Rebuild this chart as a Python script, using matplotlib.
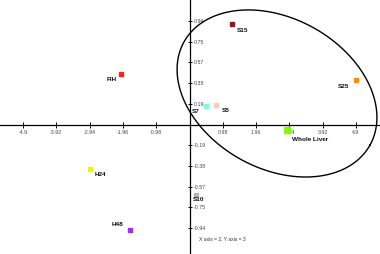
import numpy as np
import matplotlib
matplotlib.use("Agg")
import matplotlib.pyplot as plt

# ---- data ----
names = ['S15', 'FIH', 'S25', 'S7', 'S5', 'Whole Liver', 'H24', 'H48', 'S10']
xs = [1.24, -2.02, 4.91, 0.48, 0.78, 2.88, -2.92, -1.75, 0.19]
ys = [0.91, 0.46, 0.40, 0.17, 0.18, -0.05, -0.40, -0.96, -0.64]
colors = ['#8b1c1c', '#ff1e1e', '#ff8c1a', '#7fffd4', '#ffc8b8',
          '#80ff00', '#f2f200', '#9933ee', '#b4b4b4']
sizes = [3.0, 3.0, 3.0, 3.0, 3.0, 5.0, 3.0, 3.0, 2.2]
# label offsets (points) and alignment
offs = [(3.6, -4.3), (-2.9, -4.3), (-5.0, -4.3), (-4.7, -4.3), (4.3, -4.3),
        (3.6, -6.5), (2.9, -4.3), (-5.0, 4.3), (-2.2, -3.6)]
has = ['left', 'right', 'right', 'right', 'left', 'left', 'left', 'right', 'left']

xticks = [-4.9, -3.92, -2.94, -1.96, -0.98, 0.98, 1.96, 2.94, 3.92, 4.9]
xticklabels = ['-4.9', '-3.92', '-2.94', '-1.96', '-0.98', '0.98', '1.96', '2.94', '3.92', '4.9']
yticks = [0.94, 0.75, 0.57, 0.38, 0.19, -0.19, -0.38, -0.57, -0.75, -0.94]
yticklabels = ['0.94', '0.75', '0.57', '0.38', '0.19', '-0.19', '-0.38', '-0.57', '-0.75', '-0.94']

# ellipse (data units): centre and two semi-axis vectors
ell_c = (2.575, 0.282)
ell_u = (2.740, -0.467)
ell_v = (-1.068, -0.598)

fig = plt.figure(figsize=(3.8, 2.54), dpi=100)
ax = fig.add_axes([0, 0, 1, 1])
ax.set_xlim(-5.577, 5.606)
ax.set_ylim(-1.176, 1.131)

for s in ['top', 'left']:
    ax.spines[s].set_visible(False)
ax.spines['bottom'].set_position(('data', 0))
ax.spines['right'].set_position(('data', 0))
ax.spines['bottom'].set_linewidth(0.9)
ax.spines['right'].set_linewidth(0.9)
ax.yaxis.tick_right()
ax.xaxis.tick_bottom()

ax.set_xticks(xticks)
ax.set_xticklabels(xticklabels)
ax.set_yticks(yticks)
ax.set_yticklabels(yticklabels)
ax.tick_params(axis='x', direction='inout', length=4.5, width=0.7, pad=1.5,
               labelsize=3.8, labelcolor='#444444')
ax.tick_params(axis='y', direction='inout', length=3.5, width=0.7, pad=1.2,
               labelsize=3.8, labelcolor='#444444')
for lab in ax.get_xticklabels() + ax.get_yticklabels():
    lab.set_family('Liberation Sans')

t = np.linspace(0, 2 * np.pi, 400)
ex = ell_c[0] + ell_u[0] * np.cos(t) + ell_v[0] * np.sin(t)
ey = ell_c[1] + ell_u[1] * np.cos(t) + ell_v[1] * np.sin(t)
ax.plot(ex, ey, color='black', lw=1.0, zorder=2)

for n, x, y, c, ms, o, ha in zip(names, xs, ys, colors, sizes, offs, has):
    ax.plot([x], [y], marker='s', ms=ms, color=c, mec=c, ls='none', zorder=3)
    ax.annotate(n, (x, y), xytext=o, textcoords='offset points', ha=ha, va='center',
                fontsize=4.6, fontweight='bold', family='Liberation Sans', color='#111111')

ax.text(0.29, -1.035, 'X axis = 2, Y axis = 3', fontsize=3.6, family='Liberation Sans',
        color='#333333', ha='left', va='center')

fig.savefig('out.png', dpi=100)
